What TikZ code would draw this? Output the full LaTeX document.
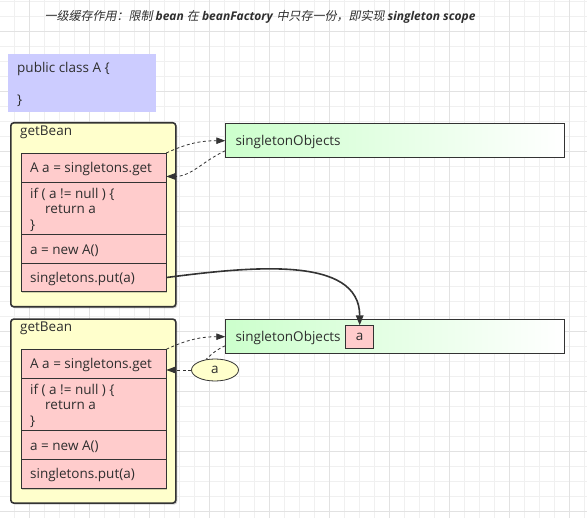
\documentclass[tikz,border=0pt]{standalone}
\usepackage{fontspec}
\setmainfont{Open Sans}
\newfontfamily\cjk{Noto Sans CJK SC}[FakeSlant=0.2]
\usetikzlibrary{shapes.geometric,arrows.meta,shadows,calc}
\definecolor{textc}{HTML}{2E2E2E}
\definecolor{linec}{HTML}{333333}
\definecolor{lavc}{HTML}{CCCCFF}
\definecolor{ycol}{HTML}{FFFFCC}
\definecolor{pcol}{HTML}{FFCCCC}
\definecolor{gcol}{HTML}{CCFFCC}
\definecolor{gridmin}{HTML}{F0F0F0}
\definecolor{gridmaj}{HTML}{E2E2E2}
\newcommand\zh[1]{{\cjk #1}}
\tikzset{
  gridminor/.style={draw=gridmin, line width=0.8pt},
  gridmajor/.style={draw=gridmaj, line width=0.9pt},
  txt/.style={text=textc, font=\fontsize{13.5}{15.7}\selectfont, inner sep=0pt},
  lbl/.style={txt, anchor=west, yshift=-1.2pt},
  shadowed/.style={drop shadow={shadow xshift=1.5pt,shadow yshift=-1.5pt,fill=black,opacity=0.18}},
  classbox/.style={fill=lavc, anchor=north west, inner sep=0pt},
  ybox/.style={draw=linec, line width=1.6pt, fill=ycol, rounded corners=3pt, anchor=north west, inner sep=0pt, minimum width=165pt, minimum height=184pt, shadowed},
  prow/.style={draw=linec, line width=0.8pt, fill=pcol, anchor=north west, inner sep=0pt, minimum width=145pt, shadowed},
  gbox/.style={draw=linec, line width=0.8pt, left color=gcol, right color=white, anchor=north west, inner sep=0pt, minimum width=338.4pt, minimum height=34pt},
  abox/.style={draw=linec, line width=0.8pt, fill=pcol, anchor=north west, inner sep=0pt, minimum width=28pt, minimum height=23pt, txt},
  ellnode/.style={ellipse, draw=linec, line width=0.8pt, fill=ycol, minimum width=47pt, minimum height=22pt, inner sep=0pt, txt},
  dasharrow/.style={draw=linec, line width=0.8pt, dash pattern=on 3pt off 2.5pt, -{Triangle[length=9pt,width=6.5pt]}},
  dashline/.style={draw=linec, line width=0.8pt, dash pattern=on 3pt off 2.5pt},
  solidarrow/.style={draw=linec, line width=1.6pt, -{Triangle[length=10pt,width=7.5pt]}},
}
\begin{document}
\begin{tikzpicture}[x=1pt,y=-1pt]
\useasboundingbox (0,0) rectangle (587,518);
\fill[white] (0,0) rectangle (587,518);
\foreach \i in {0,...,38} \draw[gridminor] ({14+15*\i},0) -- ({14+15*\i},518);
\foreach \j in {0,...,34} \draw[gridminor] (0,{1+15*\j}) -- (587,{1+15*\j});
\foreach \i in {0,...,9} \draw[gridmajor] ({29+60*\i},0) -- ({29+60*\i},518);
\foreach \j in {0,...,8} \draw[gridmajor] (0,{31+60*\j}) -- (587,{31+60*\j});

% title
\node[text=textc, font=\fontsize{12}{14}\selectfont, inner sep=0pt] (title) at (260,17)
  {\zh{一级缓存作用：限制} \textbf{\textit{bean}} \zh{在} \textbf{\textit{beanFactory}} \zh{中只存一份，即实现} \textbf{\textit{singleton scope}}};

% class box
\node[classbox, minimum width=148pt, minimum height=58pt] (cls) at (8,54) {};
\node[lbl] (clsa) at (17,68) {public class A \{};
\node[lbl] (clsb) at (17,100) {\}};

% getBean 1
\node[ybox] (gb1) at (10,122) {};
\node[lbl] (gb1t) at (20,131) {getBean};
\node[prow, minimum height=29.3pt] (r1) at (20.5,153) {};
\node[prow, minimum height=52pt] (r2) at (20.5,182.3) {};
\node[prow, minimum height=29pt] (r3) at (20.5,234.3) {};
\node[prow, minimum height=27.7pt] (r4) at (20.5,263.3) {};
\node[lbl] (t1) at ([xshift=9.5pt]r1.west) {A a = singletons.get};
\node[lbl, align=left] (t2) at ([xshift=9.5pt]r2.west) {if ( a != null ) \{\\\hspace*{15pt}return a\\\}};
\node[lbl] (t3) at ([xshift=9.5pt]r3.west) {a = new A()};
\node[lbl] (t4) at ([xshift=9.5pt]r4.west) {singletons.put(a)};

% getBean 2
\node[ybox] (gb2) at (10,318.3) {};
\node[lbl] (gb2t) at (20,327.5) {getBean};
\node[prow, minimum height=29pt] (r5) at (20.5,349.3) {};
\node[prow, minimum height=52pt] (r6) at (20.5,378.3) {};
\node[prow, minimum height=29pt] (r7) at (20.5,430.3) {};
\node[prow, minimum height=28.4pt] (r8) at (20.5,459.3) {};
\node[lbl] (t5) at ([xshift=9.5pt]r5.west) {A a = singletons.get};
\node[lbl, align=left] (t6) at ([xshift=9.5pt]r6.west) {if ( a != null ) \{\\\hspace*{15pt}return a\\\}};
\node[lbl] (t7) at ([xshift=9.5pt]r7.west) {a = new A()};
\node[lbl] (t8) at ([xshift=9.5pt]r8.west) {singletons.put(a)};

% singletonObjects boxes
\node[gbox] (g1) at (225.3,123.3) {};
\node[lbl] (g1t) at ([xshift=10pt]g1.west) {singletonObjects};
\node[gbox] (g2) at (225.3,319.3) {};
\node[lbl] (g2t) at ([xshift=10pt]g2.west) {singletonObjects};
\node[abox] (aa) at (345.3,325.3) {a};

% connectors
\draw[dasharrow] (r1.north east) to[out=25,in=180] (g1.west);
\draw[dasharrow] ([yshift=-10pt]g1.west) to[out=205,in=0] ([yshift=-8.4pt]r1.east);
\draw[dasharrow] (r5.north east) to[out=25,in=180] (g2.west);
\node[ellnode] (ea) at (215,370) {a};
\draw[dashline] ([yshift=-9pt]g2.west) to[out=205,in=45] (ea.130);
\draw[dasharrow] (ea.west) -- (ea.west -| r5.east);
\draw[solidarrow] (r4.east) .. controls +(85,-11) and +(0,-70) .. (aa.north);
\end{tikzpicture}
\end{document}
